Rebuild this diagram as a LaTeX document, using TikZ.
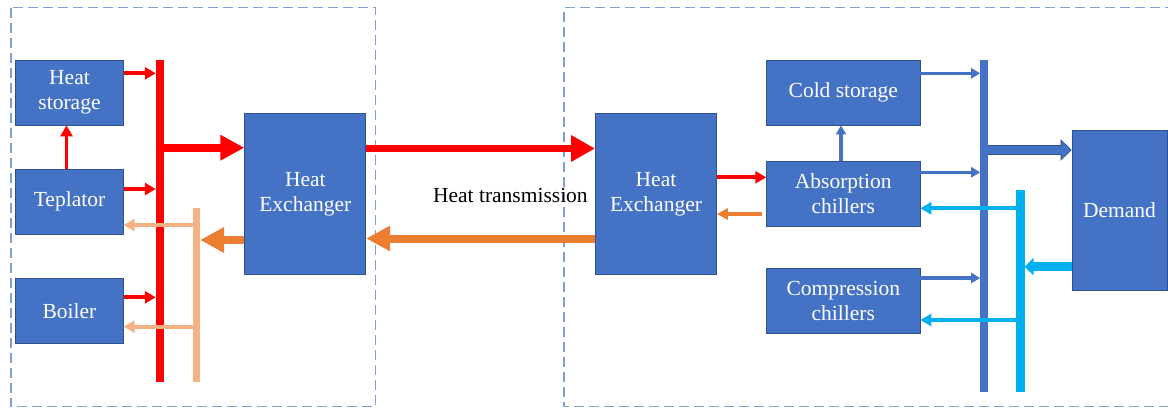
\documentclass[tikz,border=0pt]{standalone}
\usepackage{fontspec}
\setmainfont{Liberation Serif}
\usetikzlibrary{arrows.meta}
\definecolor{boxblue}{HTML}{4472C4}
\definecolor{boxedge}{HTML}{2F528F}
\definecolor{hotred}{HTML}{FF0000}
\definecolor{retorange}{HTML}{ED7D31}
\definecolor{peach}{HTML}{F4B183}
\definecolor{coldcyan}{HTML}{00B0F0}
\definecolor{frameblue}{HTML}{7F9FD6}

\begin{document}
\begin{tikzpicture}[x=1pt,y=-1pt,
  box/.style={draw=boxedge, line width=0.8pt, fill=boxblue, text=white,
    align=center, inner sep=0pt, font=\fontsize{21.5}{25}\selectfont},
  smallbox/.style={box, minimum width=107.6pt, minimum height=65pt},
  midbox/.style={box, minimum width=153.3pt, minimum height=65pt},
  hxbox/.style={box, minimum width=121pt, minimum height=160.6pt},
  bus/.style={inner sep=0pt, outer sep=0pt},
  panel/.style={draw=frameblue, line width=1.4pt, dash pattern=on 10pt off 5pt},
  flowthin/.style={line width=3.8pt, -{Triangle[length=11pt,width=12pt]}},
  flowblue/.style={boxblue, line width=3.2pt, -{Triangle[length=9pt,width=10pt]}},
  flowthick/.style={line width=8pt, -{Triangle[length=24pt,width=24pt]}},
]
\useasboundingbox (0,0) rectangle (1168,410);

% dashed panels
\draw[panel] (11,7.5) rectangle (375.5,406.5);
\draw[panel] (1175,7.5) -- (564,7.5) -- (564,406.5) -- (1175,406.5);

% heat source side
\node[smallbox] (hs)   at (69.5,92.5)  {Heat\\storage};
\node[smallbox] (tep)  at (69.5,201.8) {Teplator};
\node[smallbox] (boil) at (69.5,310.8) {Boiler};
\node[hxbox]    (hxl)  at (305.3,194)  {Heat\\Exchanger};

\node[bus, fill=hotred, minimum width=8.5pt, minimum height=322pt] (rbus) at (160,221) {};
\node[bus, fill=peach, minimum width=7.3pt, minimum height=174pt] (pbus) at (196.4,295) {};

\draw[flowthin, hotred] (hs.east |- 0,73.3) -- (rbus.west |- 0,73.3);
\draw[flowthin, hotred] (tep.east |- 0,189) -- (rbus.west |- 0,189);
\draw[flowthin, hotred] (boil.east |- 0,297.3) -- (rbus.west |- 0,297.3);
\draw[flowthin, hotred] ([xshift=-3pt]tep.north) -- ([xshift=-3pt]hs.south);
\draw[flowthin, peach] (pbus.west |- 0,225) -- (tep.east |- 0,225);
\draw[flowthin, peach] (pbus.west |- 0,326.7) -- (boil.east |- 0,326.7);
\draw[flowthick, hotred] (rbus.east |- 0,147.7) -- (hxl.west |- 0,147.7);
\draw[flowthick, retorange] (hxl.west |- 0,240) -- (pbus.east |- 0,240);

% transmission line
\node[hxbox] (hxr) at (656,194) {Heat\\Exchanger};
\draw[line width=7.5pt, hotred, -{Triangle[length=24pt,width=25pt]}]
  (hxl.east |- 0,148.5) -- (hxr.west |- 0,148.5);
\draw[line width=8pt, retorange, -{Triangle[length=24pt,width=24pt]}]
  (hxr.west |- 0,238.5) -- (hxl.east |- 0,238.5);
\node[anchor=base, font=\fontsize{21.5}{25}\selectfont] (trans) at (510.4,202.7) {Heat transmission};

% cooling side
\node[midbox] (cold) at (843.3,92.5)  {Cold storage};
\node[midbox] (abs)  at (843.3,193.5) {Absorption\\chillers};
\node[midbox] (comp) at (843.3,300.8) {Compression\\chillers};
\node[box, minimum width=95pt, minimum height=159.3pt] (dem) at (1119.5,210.3) {Demand};

\node[bus, fill=boxblue, minimum width=8pt, minimum height=331.7pt] (bbus) at (984.2,225.8) {};
\node[bus, fill=coldcyan, minimum width=8.5pt, minimum height=201.7pt] (cbus) at (1020.3,290.8) {};

\draw[flowthin, hotred] (hxr.east |- 0,177.3) -- (abs.west |- 0,177.3);
\draw[line width=4.2pt, retorange, -{Triangle[length=11pt,width=11pt]}, shorten <=4pt]
  (abs.west |- 0,214) -- (hxr.east |- 0,214);
\draw[flowblue] (abs.north -| 841,0) -- (cold.south -| 841,0);
\draw[flowblue] (cold.east |- 0,73.3) -- (bbus.west |- 0,73.3);
\draw[flowblue] (abs.east |- 0,172.3) -- (bbus.west |- 0,172.3);
\draw[flowblue] (comp.east |- 0,278) -- (bbus.west |- 0,278);
% outlined supply arrow to the demand
\draw[line width=10.5pt, boxedge, -{Triangle[length=11pt,width=21pt]}]
  (bbus.east |- 0,150) -- (dem.west |- 0,150);
\draw[line width=8.5pt, boxblue, -{Triangle[length=8.5pt,width=17pt]}, shorten >=1.3pt]
  (bbus.east |- 0,150) -- (dem.west |- 0,150);
\draw[line width=8.5pt, coldcyan, -{Triangle[length=9pt,width=17pt]}]
  (dem.west |- 0,266.7) -- (cbus.east |- 0,266.7);
\draw[coldcyan, line width=4pt, -{Triangle[length=11pt,width=12pt]}]
  (cbus.west |- 0,208.3) -- (abs.east |- 0,208.3);
\draw[coldcyan, line width=4pt, -{Triangle[length=11pt,width=12pt]}]
  (cbus.west |- 0,320) -- (comp.east |- 0,320);
\end{tikzpicture}
\end{document}
